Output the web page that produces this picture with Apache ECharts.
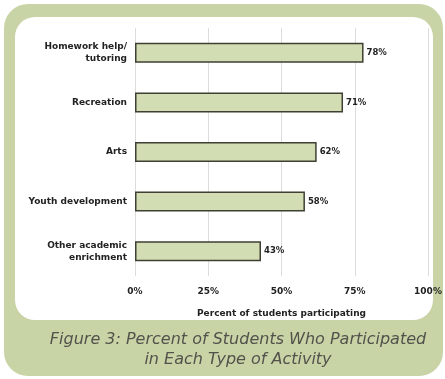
<!DOCTYPE html>
<html>
<head>
<meta charset="utf-8">
<script src="https://cdn.jsdelivr.net/npm/echarts@6/dist/echarts.min.js"></script>
<style>
  html, body { margin: 0; padding: 0; background: #ffffff; }
  #chart { width: 445px; height: 379px; }
</style>
</head>
<body>
<div id="chart"></div>
<script>
// Activity types and participation rates
const categories = ['Homework help/\ntutoring', 'Recreation', 'Arts', 'Youth development', 'Other academic\nenrichment'];
const percents = [78, 71, 62, 58, 43];
const tickValues = [0, 25, 50, 75, 100];
const axisTitle = 'Percent of students participating';
const caption = 'Figure 3: Percent of Students Who Participated\nin Each Type of Activity';

const chart = echarts.init(document.getElementById('chart'), null, { renderer: 'canvas' });

const labelFont = '"DejaVu Sans", Verdana, sans-serif';

chart.setOption({
  backgroundColor: '#ffffff',
  animation: false,
  graphic: [
    {
      type: 'rect', z: -10, silent: true,
      shape: { x: 4, y: 4, width: 439, height: 372, r: 24 },
      style: { fill: '#c9d4a6' }
    },
    {
      type: 'rect', z: -9, silent: true,
      shape: { x: 15, y: 17, width: 418, height: 303, r: 20 },
      style: { fill: '#ffffff' }
    },
    {
      type: 'text', z: 5, silent: true,
      x: 238, y: 350,
      style: {
        text: caption,
        fill: '#52524c',
        font: 'italic 16px "DejaVu Sans", Verdana, sans-serif',
        align: 'center',
        verticalAlign: 'middle',
        lineHeight: 20
      }
    }
  ],
  grid: { left: 135, right: 17, top: 28, bottom: 103, containLabel: false },
  xAxis: {
    type: 'value',
    min: tickValues[0],
    max: tickValues[tickValues.length - 1],
    interval: tickValues[1] - tickValues[0],
    name: axisTitle,
    nameLocation: 'middle',
    nameGap: 33,
    nameTextStyle: { fontFamily: labelFont, fontWeight: 'bold', fontSize: 9, color: '#222' },
    axisLine: { show: false },
    axisTick: { show: false },
    axisLabel: {
      formatter: '{value}%', margin: 11,
      fontFamily: labelFont, fontWeight: 'bold', fontSize: 9, color: '#222'
    },
    splitLine: { show: true, lineStyle: { color: '#dcdcdc', width: 1 } }
  },
  yAxis: {
    type: 'category',
    inverse: true,
    data: categories,
    axisLine: { show: false },
    axisTick: { show: false },
    axisLabel: {
      margin: 8, lineHeight: 12,
      fontFamily: labelFont, fontWeight: 'bold', fontSize: 9, color: '#222'
    }
  },
  series: [{
    type: 'bar',
    data: percents,
    barWidth: 20,
    itemStyle: { color: '#d3ddb3', borderColor: '#3f3f33', borderWidth: 1.5 },
    label: {
      show: true, position: 'right', distance: 3,
      formatter: '{c}%',
      fontFamily: labelFont, fontWeight: 'bold', fontSize: 8.5, color: '#222'
    }
  }]
});
</script>
</body>
</html>
